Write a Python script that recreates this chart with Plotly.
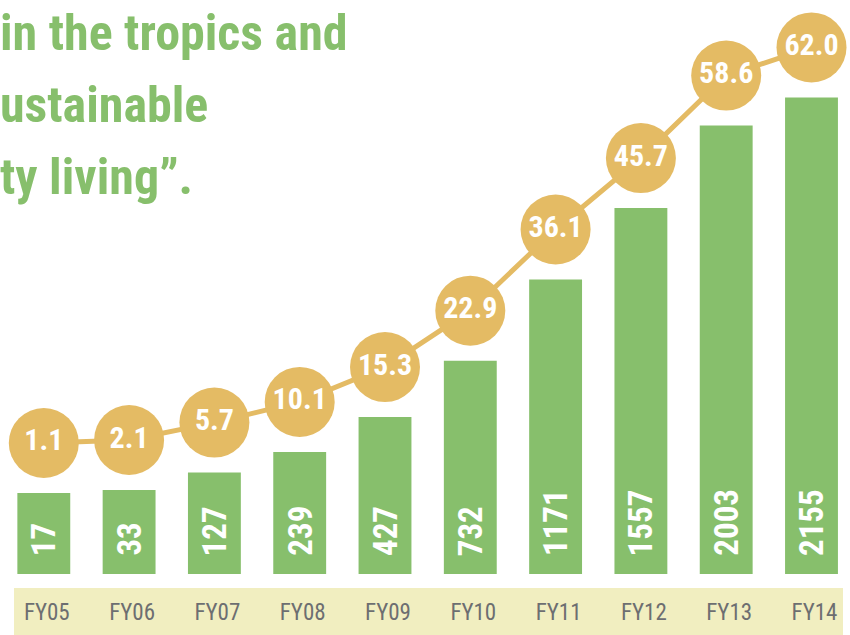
import plotly.graph_objects as go

# ---- data ----
categories = ["FY05", "FY06", "FY07", "FY08", "FY09", "FY10", "FY11", "FY12", "FY13", "FY14"]
bar_values = [17, 33, 127, 239, 427, 732, 1171, 1557, 2003, 2155]
line_values = [1.1, 2.1, 5.7, 10.1, 15.3, 22.9, 36.1, 45.7, 58.6, 62.0]
title_lines = ["in the tropics and", "ustainable", "ty living\u201d."]

# ---- style ----
GREEN = "#87bf6c"
GOLD = "#e4bb64"
STRIP = "#f1eec0"
GRAY = "#6d6e71"
FONT = "Roboto Condensed, Open Sans Condensed, DejaVu Sans Condensed, sans-serif"

W, H = 850, 635
PX_PER_UNIT = 0.185          # vertical scale of the bars
FLOOR = 421                  # bars start this far below zero (visual floor)
PLOT_BOTTOM_PX = 574         # bottom of bars (from top of page)
SHIFT_PX = 50                # circles sit this far above bar tops
X0_PX, STEP_PX = 43.8, 85.3  # first bar centre and category step

y_lo = -FLOOR
y_hi = y_lo + PLOT_BOTTOM_PX / PX_PER_UNIT
shift_units = SHIFT_PX / PX_PER_UNIT

fig = go.Figure()

fig.add_trace(go.Bar(
    x=categories,
    y=[v + FLOOR for v in bar_values],
    base=-FLOOR,
    width=0.62,
    marker=dict(color=GREEN, line=dict(width=0)),
    hoverinfo="skip",
    showlegend=False,
))

fig.add_trace(go.Scatter(
    x=categories,
    y=bar_values,
    yaxis="y2",
    mode="lines+markers+text",
    line=dict(color=GOLD, width=5),
    marker=dict(color=GOLD, size=70, line=dict(width=0)),
    text=[f"{v:.1f}" for v in line_values],
    textposition="middle center",
    textfont=dict(family=FONT, size=30, color="white", weight=700),
    cliponaxis=False,
    hoverinfo="skip",
    showlegend=False,
))

# rotated value labels inside bars
for c, v in zip(categories, bar_values):
    fig.add_annotation(
        x=c, y=y_lo, xref="x", yref="y",
        text=str(v), showarrow=False, textangle=-90,
        xanchor="center", yanchor="bottom", yshift=16,
        font=dict(family=FONT, size=33, color="white", weight=700),
    )

# headline text, cut off at the left edge
for i, t in enumerate(title_lines):
    yc = 33 + 72 * i
    fig.add_annotation(
        x=0, y=1 - yc / H, xref="paper", yref="paper",
        text=t, showarrow=False, xanchor="left", yanchor="middle", xshift=-2,
        font=dict(family=FONT, size=50, color=GREEN, weight=700),
    )

# category strip
fig.add_shape(type="rect", xref="paper", yref="paper",
              x0=14 / W, x1=843 / W, y0=0, y1=(H - 588) / H,
              fillcolor=STRIP, line=dict(width=0), layer="below")

fig.update_layout(
    width=W, height=H,
    margin=dict(l=0, r=0, t=0, b=0),
    paper_bgcolor="white", plot_bgcolor="rgba(0,0,0,0)",
    xaxis=dict(
        type="category",
        range=[-X0_PX / STEP_PX, (W - X0_PX) / STEP_PX],
        showgrid=False, zeroline=False, showline=False, ticks="",
        tickfont=dict(family=FONT, size=23, color=GRAY),
        ticklabelstandoff=22, ticklabelshift=3,
        automargin=False,
    ),
    yaxis=dict(
        range=[y_lo, y_hi], domain=[(H - PLOT_BOTTOM_PX) / H, 1],
        visible=False, automargin=False,
    ),
    yaxis2=dict(
        range=[y_lo - shift_units, y_hi - shift_units],
        overlaying="y", visible=False, automargin=False,
    ),
)

fig.write_html("out.html", config={"displayModeBar": False},
               post_script="document.body.style.margin='0';")
